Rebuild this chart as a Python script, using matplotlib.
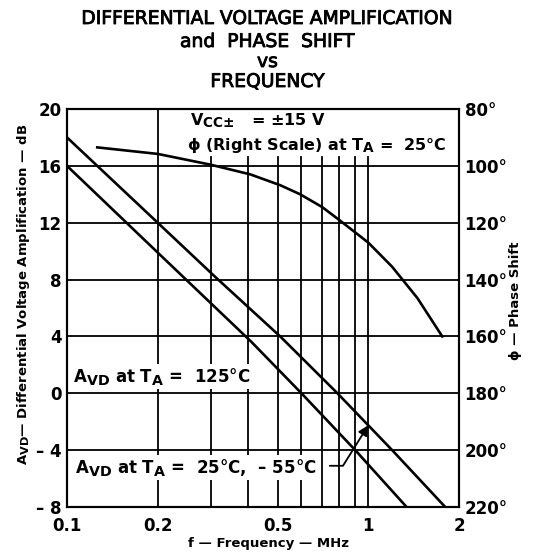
import matplotlib
matplotlib.use("Agg")
import matplotlib.pyplot as plt
import matplotlib.ticker as mticker
import matplotlib.patheffects as pe
try:
    import matplotlib._mathtext as _mt
    _mt.SHRINK_FACTOR = 0.85
except Exception:
    pass

plt.rcParams['font.family'] = ['DejaVu Sans']
plt.rcParams['font.weight'] = 'bold'
plt.rcParams['mathtext.fontset'] = 'custom'
plt.rcParams['mathtext.rm'] = 'DejaVu Sans:bold'
plt.rcParams['mathtext.it'] = 'DejaVu Sans:bold'
plt.rcParams['mathtext.bf'] = 'DejaVu Sans:bold'

# ---- data ----
f_upper = [0.1, 0.2, 0.31, 0.51, 0.79, 1.2, 1.8]
avd_upper = [18, 12, 8.2, 4, 0, -4, -8]

f_lower = [0.1, 0.2, 0.41, 0.6, 0.905, 1.34]
avd_lower = [16, 9.9, 3.6, 0, -4, -8]

f_phase = [0.126, 0.2, 0.3, 0.406, 0.51, 0.594, 0.703, 0.8, 1.0, 1.2, 1.455, 1.76]
phase = [93.5, 95.8, 99.6, 103.0, 106.8, 110.0, 114.5, 119.0, 127.0, 135.5, 146.5, 160.0]

x_ticks = [0.1, 0.2, 0.5, 1, 2]
x_tick_labels = ['0.1', '0.2', '0.5', '1', '2']
x_grid = [0.2, 0.3, 0.4, 0.5, 0.6, 0.7, 0.8, 0.9, 1.0]
y_ticks = [-8, -4, 0, 4, 8, 12, 16, 20]
phase_ticks = [80, 100, 120, 140, 160, 180, 200, 220]

fig = plt.figure(figsize=(5.35, 5.58), dpi=100)
ax = fig.add_axes([67/535, 1-507/558, (459-67)/535, (507-109)/558])
ax.set_xscale('log')
ax.set_xlim(0.1, 2)
ax.set_ylim(-8, 20)

# grid (top-right block of the grid is blanked by the condition text)
for yv in y_ticks[1:-1]:
    ax.axhline(yv, color='black', lw=1.3, zorder=1)
for xv in x_grid:
    top = 1.0 if xv < 0.25 else (16.6 + 8) / 28
    ax.axvline(xv, ymin=0, ymax=top, color='black', lw=1.3, zorder=1)

ax.plot(f_upper, avd_upper, color='black', lw=1.9, zorder=3, solid_joinstyle='round')
ax.plot(f_lower, avd_lower, color='black', lw=1.9, zorder=3, solid_joinstyle='round')

ax2 = ax.twinx()
ax2.set_ylim(220, 80)
ax2.plot(f_phase, phase, color='black', lw=1.9, zorder=3, solid_joinstyle='round')
ax2.set_yticks(phase_ticks)
ax2.set_yticklabels([f'{p}°' for p in phase_ticks], fontsize=12, fontweight='bold')
ax2.tick_params(axis='y', length=0, pad=4)
ax2.set_ylabel('ϕ — Phase Shift', fontsize=9.5, fontweight='bold', labelpad=1)
ax2.yaxis.label.set_y(0.518)

ax.set_xticks(x_ticks)
ax.set_xticklabels(x_tick_labels, fontsize=12, fontweight='bold')
ax.xaxis.set_minor_locator(mticker.NullLocator())
ax.set_yticks(y_ticks)
ax.set_yticklabels([f'{v}' if v >= 0 else f'– {-v}' for v in y_ticks], fontsize=12, fontweight='bold')
ax.tick_params(axis='y', length=0, pad=4)
ax.tick_params(axis='x', length=0, pad=7)
ax.set_ylabel('A$_{\\mathrm{VD}}$— Differential Voltage Amplification — dB', fontsize=9.5, fontweight='bold', labelpad=3)
ax.yaxis.label.set_y(0.533)
ax.set_xlabel('f — Frequency — MHz', fontsize=9.5, fontweight='bold', labelpad=2)
ax.xaxis.label.set_x(0.513)

for a in (ax, ax2):
    for s in a.spines.values():
        s.set_linewidth(1.5)

box = dict(facecolor='white', edgecolor='none', pad=1.5)
ax.text(0.256, 19.2, 'V$_{\\mathrm{CC}{\\pm}}$   = ±15 V', fontsize=11.5, fontweight='bold', va='center', ha='left', zorder=4)
ax.text(0.250, 17.4, 'ϕ (Right Scale) at T$_{\\mathrm{A}}$ =  25°C', fontsize=11.5, fontweight='bold', va='center', ha='left', zorder=4)
ax.text(0.1045, 1.2, 'A$_{\\mathrm{VD}}$ at T$_{\\mathrm{A}}$ =  125°C', fontsize=12, fontweight='bold', va='center', ha='left', bbox=box, zorder=4)
ax.text(0.106, -5.2, 'A$_{\\mathrm{VD}}$ at T$_{\\mathrm{A}}$ =  25°C,  – 55°C', fontsize=12, fontweight='bold', va='center', ha='left', bbox=box, zorder=4)

ax.annotate('', xy=(1.0, -2.25), xytext=(0.745, -5.1),
            arrowprops=dict(arrowstyle='-|>,head_length=0.6,head_width=0.3', lw=1.3, color='black',
                            connectionstyle='angle,angleA=0,angleB=58,rad=0',
                            shrinkA=0, shrinkB=0), zorder=5)

for txt, yb in [('DIFFERENTIAL VOLTAGE AMPLIFICATION', 24), ('and  PHASE  SHIFT', 47),
                ('vs', 67), ('FREQUENCY', 87)]:
    fig.text(0.5, 1-yb/558, txt, ha='center', va='baseline', fontsize=13.5, fontweight='normal',
             path_effects=[pe.withStroke(linewidth=0.6, foreground='black')])

fig.savefig('out.png', dpi=100)
